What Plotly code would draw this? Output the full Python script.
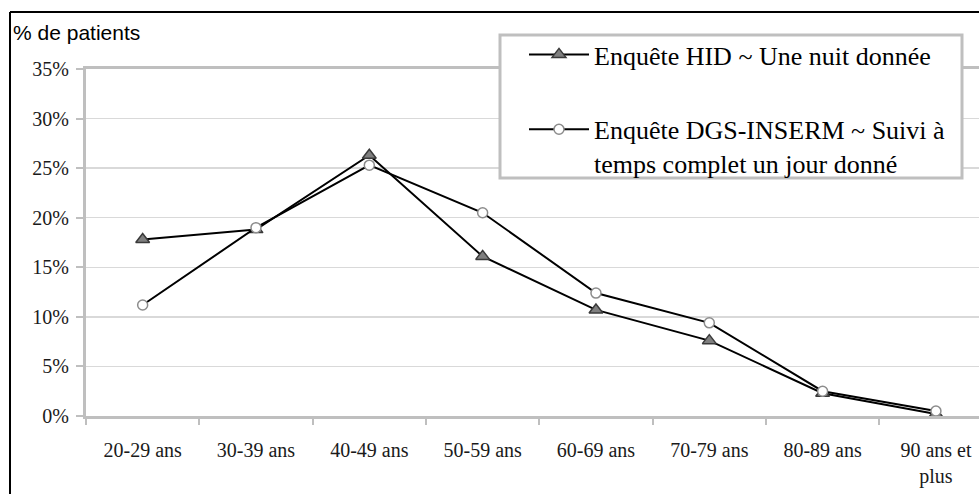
import plotly.graph_objects as go

categories = ["20-29 ans", "30-39 ans", "40-49 ans", "50-59 ans", "60-69 ans",
              "70-79 ans", "80-89 ans", "90 ans et<br>plus"]
hid_values = [17.8, 18.8, 26.3, 16.1, 10.7, 7.6, 2.3, 0.2]
dgs_values = [11.2, 19.0, 25.3, 20.5, 12.4, 9.4, 2.5, 0.5]
y_ticks = [0, 5, 10, 15, 20, 25, 30, 35]
y_tick_labels = [f"{v}%" for v in y_ticks]
series_names = ["Enquête HID ~ Une nuit donnée",
                "Enquête DGS-INSERM ~ Suivi à<br>temps complet un jour donné"]

W, H = 979, 494
L, R, T, B = 86, 979, 69, 416


def px(x):
    return (x - L) / (R - L)


def py(y):
    return (B - y) / (B - T)


SERIF = "Liberation Serif, Times New Roman, serif"

fig = go.Figure()
fig.add_trace(go.Scatter(
    x=categories, y=hid_values, mode="lines+markers", name=series_names[0],
    line=dict(color="black", width=2),
    marker=dict(symbol="triangle-up", size=12, color="#7f7f7f",
                line=dict(color="#3a3a3a", width=1.5)),
    legendgroup="a",
))
fig.add_trace(go.Scatter(
    x=categories, y=dgs_values, mode="lines+markers", name=series_names[1],
    line=dict(color="black", width=2),
    marker=dict(symbol="circle", size=10, color="white",
                line=dict(color="#8c8c8c", width=1.5)),
    legendgroup="b",
))

fig.update_layout(
    width=W, height=H,
    margin=dict(l=L, r=W - R, t=T, b=H - B, pad=0, autoexpand=False),
    paper_bgcolor="white", plot_bgcolor="white",
    font=dict(family=SERIF, size=20, color="#1a1a1a"),
    showlegend=True,
    legend=dict(
        xref="container", yref="container",
        x=524 / W, y=1 - 31 / H, xanchor="left", yanchor="top",
        bgcolor="rgba(0,0,0,0)", borderwidth=0,
        font=dict(family=SERIF, size=26, color="black"),
        tracegroupgap=38, itemwidth=60, valign="top",
    ),
    xaxis=dict(
        type="category", range=[-0.5, 7.38],
        showline=True, linecolor="#bfbfbf", linewidth=3, mirror=True,
        ticks="outside", tickson="boundaries", ticklen=6, tickwidth=2,
        tickcolor="#bfbfbf", showgrid=False, zeroline=False,
        ticklabelstandoff=14,
        tickfont=dict(family=SERIF, size=20, color="#1a1a1a"),
        fixedrange=True,
    ),
    yaxis=dict(
        range=[0, 35], tickvals=y_ticks, ticktext=y_tick_labels,
        showline=True, linecolor="#bfbfbf", linewidth=3,
        ticks="outside", ticklen=7, tickwidth=2, tickcolor="#bfbfbf",
        showgrid=True, gridcolor="#d9d9d9", gridwidth=1.5, zeroline=False,
        ticklabelstandoff=3,
        tickfont=dict(family=SERIF, size=20, color="#1a1a1a"),
        fixedrange=True,
    ),
    shapes=[
        # outer chart frame (cropped on right and bottom)
        dict(type="line", xref="paper", yref="paper",
             x0=px(10), x1=px(10), y0=py(12), y1=py(520),
             line=dict(color="black", width=2)),
        dict(type="line", xref="paper", yref="paper",
             x0=px(10), x1=px(1000), y0=py(12), y1=py(12),
             line=dict(color="black", width=2)),
        # legend box
        dict(type="rect", xref="paper", yref="paper", layer="above",
             x0=px(500), x1=px(962), y0=py(178), y1=py(35),
             fillcolor="white", line=dict(color="#bfbfbf", width=3)),
    ],
    annotations=[
        dict(text="% de patients", xref="paper", yref="paper",
             x=px(11), y=py(33), xanchor="left", yanchor="middle",
             showarrow=False,
             font=dict(family="Liberation Sans Narrow, Liberation Sans, Arial",
                       size=21, color="black")),
    ],
)

fig.write_html(
    "out.html",
    config={"displayModeBar": False, "staticPlot": True},
    post_script="document.body.style.margin='0';document.body.style.overflow='hidden';",
)
